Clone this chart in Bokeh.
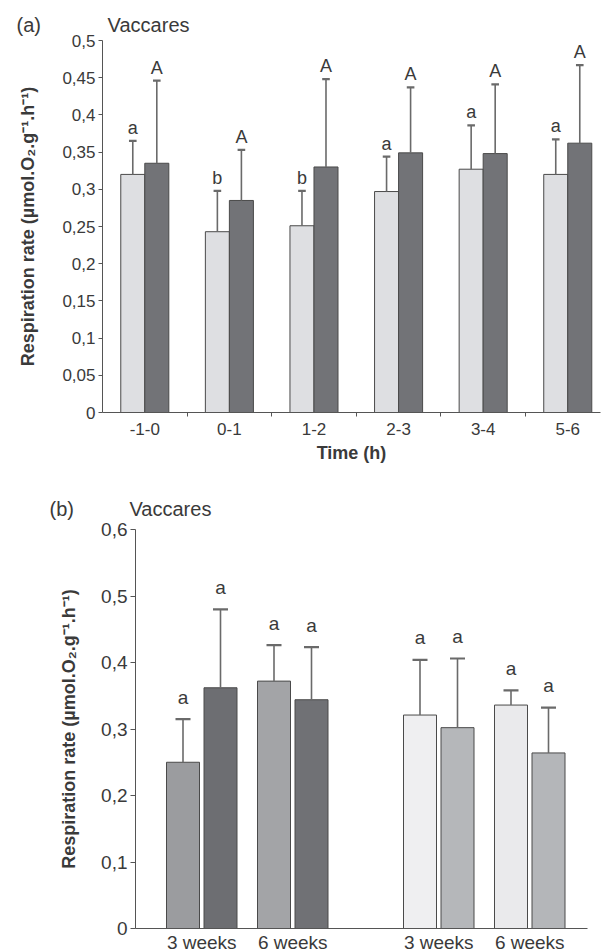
from bokeh.plotting import figure
from bokeh.models import FixedTicker, Title
from bokeh.core.properties import value
from bokeh.embed import file_html
from bokeh.resources import INLINE

FONT = "Liberation Sans"
TXT = "#3a3a3a"
AX = "#555555"

# ---------------- Panel (a) data ----------------
periods = ["-1-0", "0-1", "1-2", "2-3", "3-4", "5-6"]
light_mean = [0.320, 0.243, 0.251, 0.297, 0.327, 0.320]
light_top = [0.365, 0.298, 0.298, 0.344, 0.386, 0.367]
light_letters = ["a", "b", "b", "a", "a", "a"]
dark_mean = [0.335, 0.285, 0.330, 0.349, 0.348, 0.362]
dark_top = [0.446, 0.353, 0.448, 0.437, 0.441, 0.467]
dark_letters = ["A", "A", "A", "A", "A", "A"]
a_yticks = [0, 0.05, 0.1, 0.15, 0.2, 0.25, 0.3, 0.35, 0.4, 0.45, 0.5]
a_ylabels = ["0", "0,05", "0,1", "0,15", "0,2", "0,25", "0,3", "0,35", "0,4", "0,45", "0,5"]

# ---------------- Panel (b) data ----------------
week_labels = ["3 weeks", "6 weeks"]
b_group = [0, 0, 0, 0, 1, 1, 1, 1]
b_week = [0, 0, 1, 1, 0, 0, 1, 1]
b_member = [0, 1, 0, 1, 0, 1, 0, 1]
b_mean = [0.250, 0.362, 0.372, 0.344, 0.321, 0.302, 0.336, 0.264]
b_top = [0.315, 0.480, 0.426, 0.423, 0.404, 0.406, 0.358, 0.332]
b_letters = ["a", "a", "a", "a", "a", "a", "a", "a"]
b_yticks = [0, 0.1, 0.2, 0.3, 0.4, 0.5, 0.6]
b_ylabels = ["0", "0,1", "0,2", "0,3", "0,4", "0,5", "0,6"]

YLABEL = "Respiration rate (\u00b5mol.O\u2082.g\u207b\u00b9.h\u207b\u00b9)"
SITE = "Vaccares"

# ---------------- style ----------------
A_LIGHT = "#dedfe2"
A_DARK = "#727377"
B_COLORS = ["#9b9c9f", "#6d6e72", "#a3a4a7", "#707175",
            "#efeff1", "#b5b7ba", "#eaeaec", "#b4b6b9"]
NBSP = "\u00a0"


def style_axes(p, tick_size):
    p.outline_line_color = None
    p.xgrid.grid_line_color = None
    p.ygrid.grid_line_color = None
    for ax in (p.xaxis[0], p.yaxis[0]):
        ax.axis_line_color = AX
        ax.axis_line_width = 1
        ax.major_tick_line_color = AX
        ax.major_tick_in = 0
        ax.major_tick_out = 4
        ax.minor_tick_line_color = None
        ax.minor_tick_in = 0
        ax.minor_tick_out = 0
        ax.major_label_text_font = FONT
        ax.major_label_text_font_size = tick_size
        ax.major_label_text_color = TXT
        ax.axis_label_text_font = FONT
        ax.axis_label_text_font_style = "bold"
        ax.axis_label_text_color = TXT


def add_heading(p, tag, gap, offset, standoff):
    t = Title(text=tag + NBSP * gap + SITE, align="left", offset=offset,
              standoff=standoff, text_font=FONT, text_font_size="20px",
              text_font_style="normal", text_color=TXT)
    p.add_layout(t, "above")


# ================= Panel (a) =================
pa = figure(frame_width=498, frame_height=372, x_range=(0, 5.887), y_range=(0, 0.5),
            output_backend="svg", toolbar_location=None,
            min_border_left=102, min_border_right=6, min_border_top=40,
            min_border_bottom=58)
style_axes(pa, "17px")

bw = 0.284
xc = [i + 0.5 for i in range(len(periods))]
xl = [x - bw / 2 for x in xc]
xd = [x + bw / 2 for x in xc]

pa.vbar(x=xl, width=bw, bottom=0, top=light_mean, fill_color=A_LIGHT,
        line_color="#4a4a4a", line_width=1)
pa.vbar(x=xd, width=bw, bottom=0, top=dark_mean, fill_color=A_DARK,
        line_color="#4a4a4a", line_width=1)

cap = 0.045
for xs, m, t in ((xl, light_mean, light_top), (xd, dark_mean, dark_top)):
    pa.segment(x0=xs, y0=m, x1=xs, y1=t, line_color="#6a6a6a", line_width=1.6)
    pa.segment(x0=[x - cap for x in xs], y0=t, x1=[x + cap for x in xs], y1=t,
               line_color="#6a6a6a", line_width=2.2)

pa.text(x=xl, y=light_top, text=light_letters, text_align="center",
        text_baseline="alphabetic", y_offset=-13, text_font=value(FONT),
        text_font_size="18px", text_color=TXT)
pa.text(x=xd, y=dark_top, text=dark_letters, text_align="center",
        text_baseline="alphabetic", y_offset=-13, text_font=value(FONT),
        text_font_size="18px", text_color=TXT)

pa.xaxis.ticker = FixedTicker(ticks=xc, minor_ticks=[1, 2, 3, 4, 5])
pa.xaxis.major_label_overrides = {x: lab for x, lab in zip(xc, periods)}
pa.xaxis.major_tick_line_color = None
pa.xaxis.major_tick_out = 0
pa.xaxis.minor_tick_line_color = AX
pa.xaxis.minor_tick_out = 4
pa.xaxis.major_label_standoff = 6
pa.xaxis.axis_label = "Time (h)"
pa.xaxis.axis_label_text_font_size = "18px"
pa.xaxis.axis_label_standoff = 5

pa.yaxis.ticker = FixedTicker(ticks=a_yticks)
pa.yaxis.major_label_overrides = {t: lab for t, lab in zip(a_yticks, a_ylabels)}
pa.yaxis.major_label_standoff = 3
pa.yaxis.axis_label = YLABEL
pa.yaxis.axis_label_text_font_size = "18px"
pa.yaxis.axis_label_standoff = 21

add_heading(pa, "(a)", 12, -86, 9)

# ================= Panel (b) =================
pb = figure(frame_width=452, frame_height=399, x_range=(0, 452), y_range=(0, 0.6),
            output_backend="svg", toolbar_location=None,
            min_border_left=135, min_border_right=19, min_border_top=59,
            min_border_bottom=24)
style_axes(pb, "19px")

G, W, P, X0, BW = 237.0, 91.0, 37.5, 47.5, 33.0
bx = [X0 + G * g + W * w + P * m for g, w, m in zip(b_group, b_week, b_member)]

pb.vbar(x=bx, width=BW, bottom=0, top=b_mean, fill_color=B_COLORS,
        line_color="#4a4a4a", line_width=1)
bcap = 7.5
pb.segment(x0=bx, y0=b_mean, x1=bx, y1=b_top, line_color="#6a6a6a", line_width=1.6)
pb.segment(x0=[x - bcap for x in bx], y0=b_top, x1=[x + bcap for x in bx], y1=b_top,
           line_color="#6a6a6a", line_width=2.2)
pb.text(x=bx, y=b_top, text=b_letters, text_align="center",
        text_baseline="alphabetic", y_offset=-22, text_font=value(FONT),
        text_font_size="19px", text_color=TXT)

pair_centers = []
pair_labels = []
for g in (0, 1):
    for w in (0, 1):
        pair_centers.append(X0 + G * g + W * w + P / 2)
        pair_labels.append(week_labels[w])
pb.xaxis.ticker = FixedTicker(ticks=pair_centers)
pb.xaxis.major_label_overrides = {x: lab for x, lab in zip(pair_centers, pair_labels)}
pb.xaxis.major_tick_line_color = None
pb.xaxis.major_tick_out = 0
pb.xaxis.major_label_standoff = 3

pb.yaxis.ticker = FixedTicker(ticks=b_yticks)
pb.yaxis.major_label_overrides = {t: lab for t, lab in zip(b_yticks, b_ylabels)}
pb.yaxis.major_tick_out = 5
pb.yaxis.major_label_standoff = 3
pb.yaxis.axis_label = YLABEL
pb.yaxis.axis_label_text_font_size = "18px"
pb.yaxis.axis_label_standoff = 19

add_heading(pb, "(b)", 10, -86, 20)

open("out.html", "w").write(file_html([pa, pb], INLINE))
